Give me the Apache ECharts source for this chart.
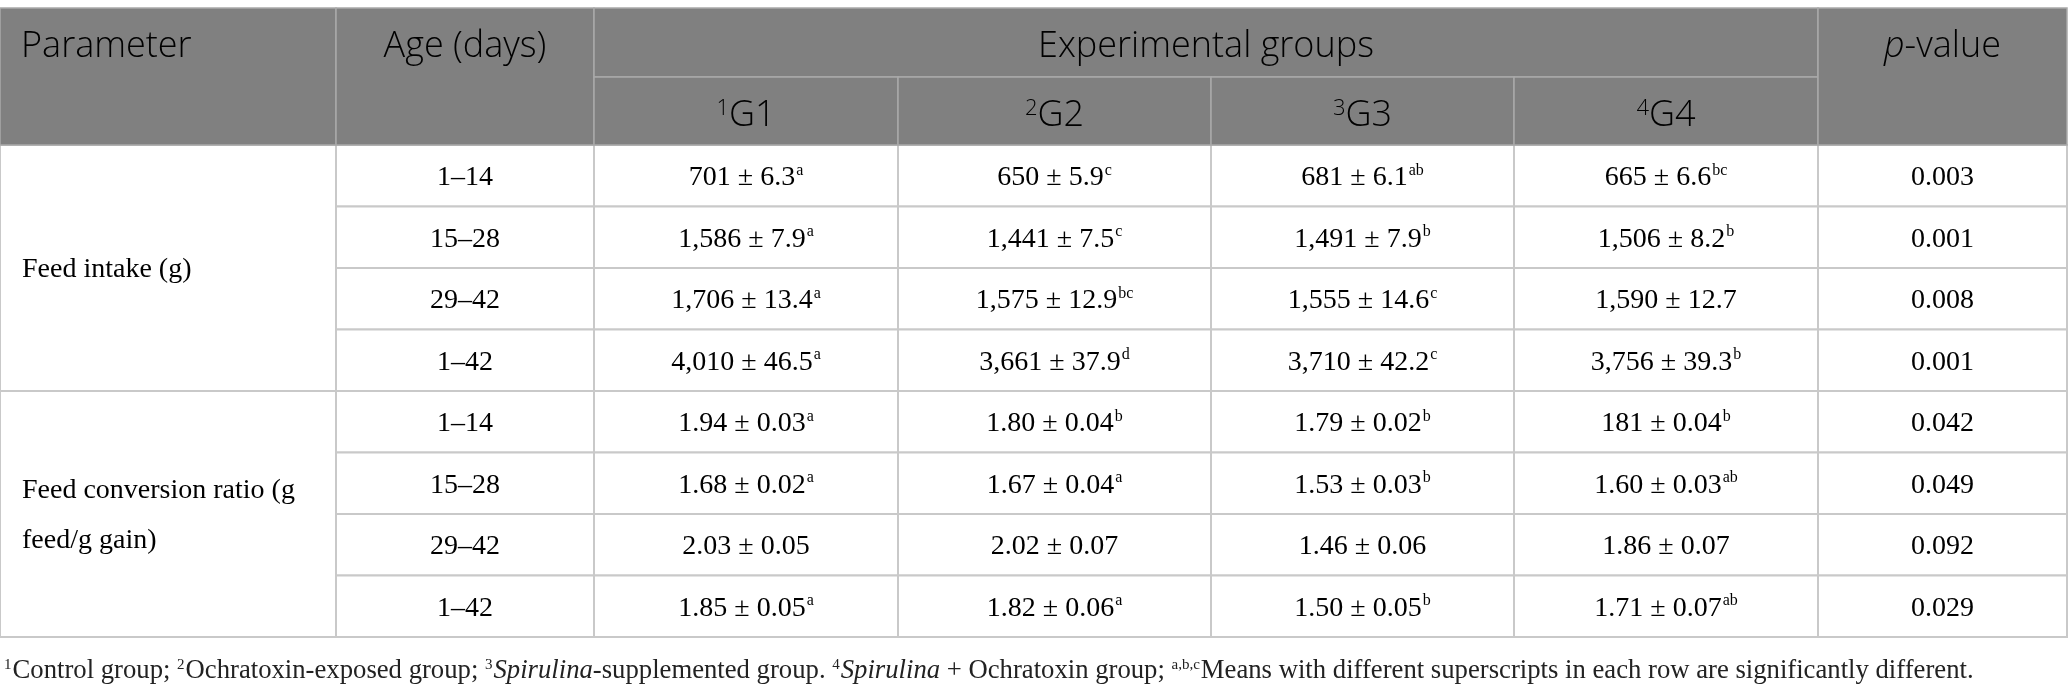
<!DOCTYPE html>
<html><head><meta charset="utf-8">
<script src="https://cdn.jsdelivr.net/npm/echarts@6/dist/echarts.min.js"></script>
<style>html,body{margin:0;padding:0;background:#fff}#c{width:2068px;height:693px}</style>
</head><body><div id="c"></div>
<script>
// ---------- DATA ----------
const parameters = ['Feed intake (g)', 'Feed conversion ratio (g\nfeed/g gain)'];
const ages = ['1–14', '15–28', '29–42', '1–42', '1–14', '15–28', '29–42', '1–42'];
const groupLabels = ['G1', 'G2', 'G3', 'G4'];
const groupNotes = ['1', '2', '3', '4'];
const g1Values = ['701 ± 6.3', '1,586 ± 7.9', '1,706 ± 13.4', '4,010 ± 46.5', '1.94 ± 0.03', '1.68 ± 0.02', '2.03 ± 0.05', '1.85 ± 0.05'];
const g1Sup = ['a', 'a', 'a', 'a', 'a', 'a', '', 'a'];
const g2Values = ['650 ± 5.9', '1,441 ± 7.5', '1,575 ± 12.9', '3,661 ± 37.9', '1.80 ± 0.04', '1.67 ± 0.04', '2.02 ± 0.07', '1.82 ± 0.06'];
const g2Sup = ['c', 'c', 'bc', 'd', 'b', 'a', '', 'a'];
const g3Values = ['681 ± 6.1', '1,491 ± 7.9', '1,555 ± 14.6', '3,710 ± 42.2', '1.79 ± 0.02', '1.53 ± 0.03', '1.46 ± 0.06', '1.50 ± 0.05'];
const g3Sup = ['ab', 'b', 'c', 'c', 'b', 'b', '', 'b'];
const g4Values = ['665 ± 6.6', '1,506 ± 8.2', '1,590 ± 12.7', '3,756 ± 39.3', '181 ± 0.04', '1.60 ± 0.03', '1.86 ± 0.07', '1.71 ± 0.07'];
const g4Sup = ['bc', 'b', '', 'b', 'b', 'ab', '', 'ab'];
const pValues = ['0.003', '0.001', '0.008', '0.001', '0.042', '0.049', '0.092', '0.029'];
const headerParam = 'Parameter';
const headerAge = 'Age (days)';
const headerGroups = 'Experimental groups';
const headerP = ['p', '-value'];
const rowsPerParam = 4;

// ---------- LAYOUT (style config) ----------
const colEdges = [0, 336, 594, 898, 1211, 1514, 1818, 2067];
const headTop = 0, headMid = 69, headBottom = 137;
const rowH = 61.5;
const gridTop = 8;
const totalH = headBottom + rowH * ages.length;
const HEAD_FILL = '#808080', HEAD_LINE = '#a9a9a9';
const BODY_LINE = '#c9c9c9';
const sans = '"Open Sans", "Noto Sans", sans-serif';
const serif = '"Liberation Serif", "Times New Roman", serif';
const headShift = 4, bodyShift = 2;

const headRich = {
  h: { fontSize: 36, fontFamily: sans, fontWeight: 300, color: '#fff', lineHeight: 40 },
  hi: { fontSize: 36, fontFamily: sans, fontWeight: 300, fontStyle: 'italic', color: '#fff', lineHeight: 40 },
  hs: { fontSize: 22, fontFamily: sans, fontWeight: 300, color: '#fff', lineHeight: 22, verticalAlign: 'top', padding: [2, 0, 0, 0] }
};
const bodyRich = {
  n: { fontSize: 28, fontFamily: serif, color: '#111', lineHeight: 30 },
  l: { fontSize: 28, fontFamily: serif, color: '#111', lineHeight: 50 },
  s: { fontSize: 16, fontFamily: serif, color: '#111', lineHeight: 16, verticalAlign: 'top', padding: [0, 0, 0, 1] }
};

// ---------- BUILD CELLS ----------
const cells = [];
function addCell(c0, c1, y0, y1, text, opts) {
  cells.push(Object.assign({ x0: colEdges[c0], x1: colEdges[c1], y0: y0, y1: y1, text: text }, opts));
}
const bodyOpts = { fill: '#fff', stroke: BODY_LINE, lw: 2, rich: bodyRich, align: 'center', shift: bodyShift };
const headOpts = { fill: HEAD_FILL, stroke: HEAD_LINE, lw: 1.5, rich: headRich, align: 'center', shift: headShift };
const valueCols = [[g1Values, g1Sup], [g2Values, g2Sup], [g3Values, g3Sup], [g4Values, g4Sup]];

// body first
parameters.forEach((p, pi) => {
  const y0 = headBottom + pi * rowsPerParam * rowH;
  const txt = p.split('\n').map(s => '{l|' + s + '}').join('\n');
  addCell(0, 1, y0, y0 + rowsPerParam * rowH, txt, Object.assign({}, bodyOpts, { align: 'left', pad: 22 }));
});
ages.forEach((a, r) => {
  const y0 = headBottom + r * rowH, y1 = y0 + rowH;
  addCell(1, 2, y0, y1, '{n|' + a + '}', bodyOpts);
  valueCols.forEach(([vals, sups], gi) => {
    const t = '{n|' + vals[r] + '}' + (sups[r] ? '{s|' + sups[r] + '}' : '');
    addCell(2 + gi, 3 + gi, y0, y1, t, bodyOpts);
  });
  addCell(6, 7, y0, y1, '{n|' + pValues[r] + '}', bodyOpts);
});
// header
addCell(0, 1, headTop, headBottom, '{h|' + headerParam + '}', Object.assign({}, headOpts, { align: 'left', pad: 21, textY: (headTop + headMid) / 2 }));
addCell(1, 2, headTop, headBottom, '{h|' + headerAge + '}', Object.assign({}, headOpts, { textY: (headTop + headMid) / 2 }));
addCell(2, 6, headTop, headMid, '{h|' + headerGroups + '}', headOpts);
groupLabels.forEach((g, gi) => {
  addCell(2 + gi, 3 + gi, headMid, headBottom, '{hs|' + groupNotes[gi] + '}{h|' + g + '}', Object.assign({}, headOpts, { textY: (headMid + headBottom) / 2 + 1 }));
});
addCell(6, 7, headTop, headBottom, '{hi|' + headerP[0] + '}{h|' + headerP[1] + '}', Object.assign({}, headOpts, { textY: (headTop + headMid) / 2 }));

function renderItem(params, api) {
  const c = cells[api.value(0)];
  const p0 = api.coord([c.x0, c.y0]);
  const p1 = api.coord([c.x1, c.y1]);
  const children = [{
    type: 'rect',
    shape: { x: p0[0], y: p0[1], width: p1[0] - p0[0], height: p1[1] - p0[1] },
    style: { fill: c.fill, stroke: c.stroke, lineWidth: c.lw }
  }];
  if (c.text) {
    const tx = c.align === 'left' ? p0[0] + c.pad : (p0[0] + p1[0]) / 2;
    const ty = (c.textY !== undefined ? api.coord([0, c.textY])[1] : (p0[1] + p1[1]) / 2) + (c.shift || 0);
    children.push({
      type: 'text',
      style: { text: c.text, x: tx, y: ty, align: c.align, verticalAlign: 'middle', rich: c.rich }
    });
  }
  return { type: 'group', children: children };
}

const footnote = '{s|1}{n|Control group; }{s|2}{n|Ochratoxin-exposed group; }{s|3}{i|Spirulina}{n|-supplemented group. }{s|4}{i|Spirulina}{n| + Ochratoxin group; }{s|a,b,c}{n|Means with different superscripts in each row are significantly different.}';

const chart = echarts.init(document.getElementById('c'), null, { renderer: 'canvas' });
chart.setOption({
  animation: false,
  backgroundColor: '#fff',
  title: {
    text: footnote,
    left: 4, top: 656, padding: 0,
    textStyle: {
      fontWeight: 'normal',
      rich: {
        n: { fontSize: 26.7, fontFamily: serif, fontWeight: 'normal', color: '#222', lineHeight: 30 },
        i: { fontSize: 26.7, fontFamily: serif, fontWeight: 'normal', fontStyle: 'italic', color: '#222', lineHeight: 30 },
        s: { fontSize: 15, fontFamily: serif, fontWeight: 'normal', color: '#222', lineHeight: 15, verticalAlign: 'top', padding: [2, 1, 0, 0] }
      }
    }
  },
  grid: { left: 0, right: 0, top: gridTop, height: totalH, containLabel: false },
  xAxis: { type: 'value', min: 0, max: 2068, show: false },
  yAxis: { type: 'value', min: 0, max: totalH, inverse: true, show: false },
  series: [{
    type: 'custom',
    clip: false,
    renderItem: renderItem,
    encode: { x: 0, y: 1 },
    data: cells.map((c, i) => [i, 0])
  }]
});
</script>
</body></html>
